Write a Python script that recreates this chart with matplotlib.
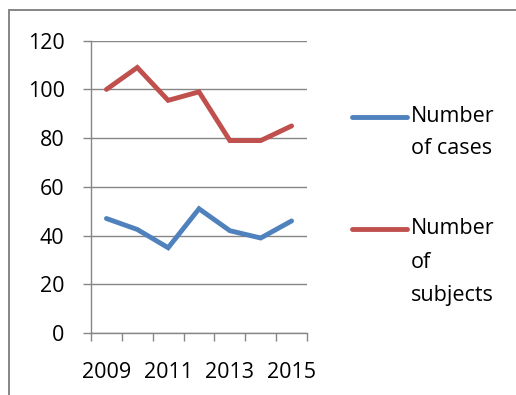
import matplotlib
matplotlib.use("Agg")
import matplotlib.pyplot as plt
from matplotlib.lines import Line2D
from matplotlib.patches import Rectangle

years = [2009, 2010, 2011, 2012, 2013, 2014, 2015]
cases = [47, 42.5, 35, 51, 42, 39, 46]
subjects = [100, 109, 95.5, 99, 79, 79, 85]
series_names = ["Number\nof cases", "Number\nof\nsubjects"]
y_ticks = [0, 20, 40, 60, 80, 100, 120]

blue = "#4F81BD"
red = "#C0504D"
gray = "#868686"
fs = 15.5
lw = 3.5

plt.rcParams["font.family"] = ["Open Sans", "DejaVu Sans"]

W, H = 516, 395
fig = plt.figure(figsize=(W / 100, H / 100), dpi=100)

# outer chart-area frame (left and top edges visible)
fig.add_artist(Rectangle((8.5 / W, -0.1), 1.2, 1.1 - 10.5 / H, transform=fig.transFigure,
                         fill=False, edgecolor=gray, linewidth=1.4))

ax = fig.add_axes([91 / W, 1 - 333 / H, (307 - 91) / W, (333 - 40.7) / H])

x = list(range(len(years)))
ax.plot(x, cases, color=blue, linewidth=lw, solid_joinstyle="miter", solid_capstyle="round")
ax.plot(x, subjects, color=red, linewidth=lw, solid_joinstyle="miter", solid_capstyle="round")

ax.set_xlim(-0.5, len(years) - 0.5)
ax.set_ylim(0, 120)
ax.set_yticks(y_ticks)
ax.set_yticklabels([str(v) for v in y_ticks])

# category boundaries as tick marks, labels every other year
ax.set_xticks([i - 0.5 for i in range(len(years) + 1)])
ax.set_xticklabels([])
ax.set_xticks(x[::2], minor=True)
ax.set_xticklabels([str(y) for y in years[::2]], minor=True)
ax.tick_params(axis="x", which="major", length=6, color=gray, width=1)
ax.tick_params(axis="x", which="minor", length=0, pad=21, labelsize=fs)
ax.tick_params(axis="y", length=6, color=gray, width=1, pad=13, labelsize=fs)

ax.grid(axis="y", color=gray, linewidth=1)
ax.set_axisbelow(True)
for s in ["top", "right"]:
    ax.spines[s].set_visible(False)
for s in ["left", "bottom"]:
    ax.spines[s].set_color(gray)
    ax.spines[s].set_linewidth(1)

# legend entries: line swatch aligned with the first text line
entries = [(blue, series_names[0], 117, 31), (red, series_names[1], 229, 33)]
for color, label, yc, spacing in entries:
    fig.add_artist(Line2D([352 / W, 407 / W], [1 - yc / H, 1 - yc / H], transform=fig.transFigure,
                          color=color, linewidth=lw, solid_capstyle="round"))
    for k, line in enumerate(label.split("\n")):
        fig.text(411 / W, 1 - (yc + k * spacing) / H, line, fontsize=fs,
                 va="center", ha="left", color="black")

fig.savefig("out.png", dpi=100)
